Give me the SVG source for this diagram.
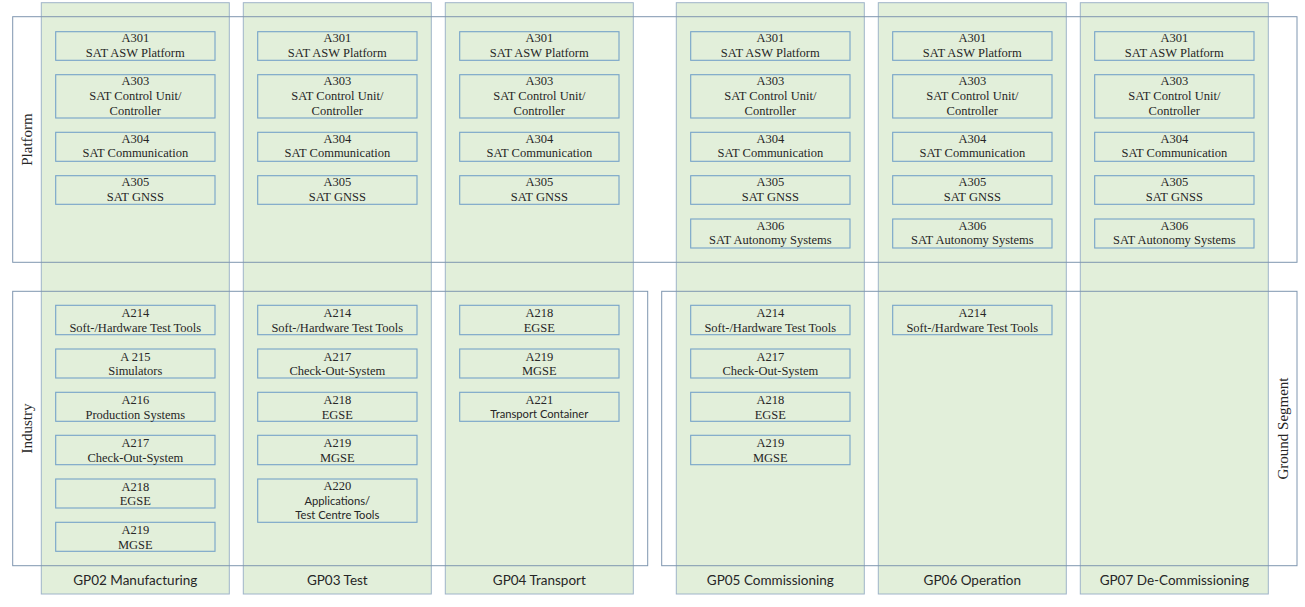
<svg xmlns="http://www.w3.org/2000/svg" width="1305" height="607" viewBox="0 0 1305 607">
<style>
.col{fill:#e2efda;stroke:#9fb4c9;stroke-width:1}
.band{fill:none;stroke:#7f96b0;stroke-width:1}
.box{fill:#e2efda;stroke:#76a3c8;stroke-width:1.1}
.t{font-family:"Liberation Serif","Times New Roman",serif;font-size:12.5px;fill:#262626;text-anchor:middle}
.s{font-family:Lato,"Liberation Sans",sans-serif;font-size:11.2px;fill:#262626;text-anchor:middle}
.f{font-family:Lato,"Liberation Sans",sans-serif;font-size:13.5px;fill:#262626;text-anchor:middle}
.lbl{font-family:"Liberation Serif","Times New Roman",serif;font-size:15px;fill:#262626;text-anchor:middle}
</style>
<rect width="1305" height="607" fill="#fff"/>
<g id="columns">
<g id="gp02"><rect class="col" x="41.3" y="2.7" width="188" height="591.3"/><text class="f" x="135.3" y="585">GP02 Manufacturing</text></g>
<g id="gp03"><rect class="col" x="243.3" y="2.7" width="188" height="591.3"/><text class="f" x="337.3" y="585">GP03 Test</text></g>
<g id="gp04"><rect class="col" x="445.3" y="2.7" width="188" height="591.3"/><text class="f" x="539.3" y="585">GP04 Transport</text></g>
<g id="gp05"><rect class="col" x="676.3" y="2.7" width="188" height="591.3"/><text class="f" x="770.3" y="585">GP05 Commissioning</text></g>
<g id="gp06"><rect class="col" x="878.3" y="2.7" width="188" height="591.3"/><text class="f" x="972.3" y="585">GP06 Operation</text></g>
<g id="gp07"><rect class="col" x="1080.3" y="2.7" width="188" height="591.3"/><text class="f" x="1174.3" y="585">GP07 De-Commissioning</text></g>
</g>
<g id="bands">
<g id="platform"><rect class="band" x="12.7" y="16.7" width="1284.3" height="245.6"/><text class="lbl" transform="translate(32,139.5) rotate(-90)">Platform</text></g>
<g id="industry"><rect class="band" x="12.7" y="291.3" width="635" height="274.4"/><text class="lbl" transform="translate(32,428.5) rotate(-90)">Industry</text></g>
<g id="ground-segment"><rect class="band" x="661.7" y="291.3" width="635.3" height="274.4"/><text class="lbl" transform="translate(1287.5,428.5) rotate(-90)">Ground Segment</text></g>
</g>
<g id="connectors"></g>
<!-- Platform nodes -->
<g id="p02-a301"><rect class="box" x="55.7" y="31.7" width="159.3" height="28.6"/><text class="t" x="135.3" y="42.3">A301</text><text class="t" x="135.3" y="56.7">SAT ASW Platform</text></g>
<g id="p02-a303"><rect class="box" x="55.7" y="74.7" width="159.3" height="43.3"/><text class="t" x="135.3" y="85.3">A303</text><text class="t" x="135.3" y="100">SAT Control Unit/</text><text class="t" x="135.3" y="114.7">Controller</text></g>
<g id="p02-a304"><rect class="box" x="55.7" y="132.3" width="159.3" height="29"/><text class="t" x="135.3" y="143">A304</text><text class="t" x="135.3" y="157.4">SAT Communication</text></g>
<g id="p02-a305"><rect class="box" x="55.7" y="175.7" width="159.3" height="28.6"/><text class="t" x="135.3" y="186.3">A305</text><text class="t" x="135.3" y="200.7">SAT GNSS</text></g>

<g id="p03-a301"><rect class="box" x="257.7" y="31.7" width="159.3" height="28.6"/><text class="t" x="337.3" y="42.3">A301</text><text class="t" x="337.3" y="56.7">SAT ASW Platform</text></g>
<g id="p03-a303"><rect class="box" x="257.7" y="74.7" width="159.3" height="43.3"/><text class="t" x="337.3" y="85.3">A303</text><text class="t" x="337.3" y="100">SAT Control Unit/</text><text class="t" x="337.3" y="114.7">Controller</text></g>
<g id="p03-a304"><rect class="box" x="257.7" y="132.3" width="159.3" height="29"/><text class="t" x="337.3" y="143">A304</text><text class="t" x="337.3" y="157.4">SAT Communication</text></g>
<g id="p03-a305"><rect class="box" x="257.7" y="175.7" width="159.3" height="28.6"/><text class="t" x="337.3" y="186.3">A305</text><text class="t" x="337.3" y="200.7">SAT GNSS</text></g>

<g id="p04-a301"><rect class="box" x="459.7" y="31.7" width="159.3" height="28.6"/><text class="t" x="539.3" y="42.3">A301</text><text class="t" x="539.3" y="56.7">SAT ASW Platform</text></g>
<g id="p04-a303"><rect class="box" x="459.7" y="74.7" width="159.3" height="43.3"/><text class="t" x="539.3" y="85.3">A303</text><text class="t" x="539.3" y="100">SAT Control Unit/</text><text class="t" x="539.3" y="114.7">Controller</text></g>
<g id="p04-a304"><rect class="box" x="459.7" y="132.3" width="159.3" height="29"/><text class="t" x="539.3" y="143">A304</text><text class="t" x="539.3" y="157.4">SAT Communication</text></g>
<g id="p04-a305"><rect class="box" x="459.7" y="175.7" width="159.3" height="28.6"/><text class="t" x="539.3" y="186.3">A305</text><text class="t" x="539.3" y="200.7">SAT GNSS</text></g>

<g id="p05-a301"><rect class="box" x="690.7" y="31.7" width="159.3" height="28.6"/><text class="t" x="770.3" y="42.3">A301</text><text class="t" x="770.3" y="56.7">SAT ASW Platform</text></g>
<g id="p05-a303"><rect class="box" x="690.7" y="74.7" width="159.3" height="43.3"/><text class="t" x="770.3" y="85.3">A303</text><text class="t" x="770.3" y="100">SAT Control Unit/</text><text class="t" x="770.3" y="114.7">Controller</text></g>
<g id="p05-a304"><rect class="box" x="690.7" y="132.3" width="159.3" height="29"/><text class="t" x="770.3" y="143">A304</text><text class="t" x="770.3" y="157.4">SAT Communication</text></g>
<g id="p05-a305"><rect class="box" x="690.7" y="175.7" width="159.3" height="28.6"/><text class="t" x="770.3" y="186.3">A305</text><text class="t" x="770.3" y="200.7">SAT GNSS</text></g>
<g id="p05-a306"><rect class="box" x="690.7" y="219" width="159.3" height="29"/><text class="t" x="770.3" y="229.6">A306</text><text class="t" x="770.3" y="244">SAT Autonomy Systems</text></g>

<g id="p06-a301"><rect class="box" x="892.7" y="31.7" width="159.3" height="28.6"/><text class="t" x="972.3" y="42.3">A301</text><text class="t" x="972.3" y="56.7">SAT ASW Platform</text></g>
<g id="p06-a303"><rect class="box" x="892.7" y="74.7" width="159.3" height="43.3"/><text class="t" x="972.3" y="85.3">A303</text><text class="t" x="972.3" y="100">SAT Control Unit/</text><text class="t" x="972.3" y="114.7">Controller</text></g>
<g id="p06-a304"><rect class="box" x="892.7" y="132.3" width="159.3" height="29"/><text class="t" x="972.3" y="143">A304</text><text class="t" x="972.3" y="157.4">SAT Communication</text></g>
<g id="p06-a305"><rect class="box" x="892.7" y="175.7" width="159.3" height="28.6"/><text class="t" x="972.3" y="186.3">A305</text><text class="t" x="972.3" y="200.7">SAT GNSS</text></g>
<g id="p06-a306"><rect class="box" x="892.7" y="219" width="159.3" height="29"/><text class="t" x="972.3" y="229.6">A306</text><text class="t" x="972.3" y="244">SAT Autonomy Systems</text></g>

<g id="p07-a301"><rect class="box" x="1094.7" y="31.7" width="159.3" height="28.6"/><text class="t" x="1174.3" y="42.3">A301</text><text class="t" x="1174.3" y="56.7">SAT ASW Platform</text></g>
<g id="p07-a303"><rect class="box" x="1094.7" y="74.7" width="159.3" height="43.3"/><text class="t" x="1174.3" y="85.3">A303</text><text class="t" x="1174.3" y="100">SAT Control Unit/</text><text class="t" x="1174.3" y="114.7">Controller</text></g>
<g id="p07-a304"><rect class="box" x="1094.7" y="132.3" width="159.3" height="29"/><text class="t" x="1174.3" y="143">A304</text><text class="t" x="1174.3" y="157.4">SAT Communication</text></g>
<g id="p07-a305"><rect class="box" x="1094.7" y="175.7" width="159.3" height="28.6"/><text class="t" x="1174.3" y="186.3">A305</text><text class="t" x="1174.3" y="200.7">SAT GNSS</text></g>
<g id="p07-a306"><rect class="box" x="1094.7" y="219" width="159.3" height="29"/><text class="t" x="1174.3" y="229.6">A306</text><text class="t" x="1174.3" y="244">SAT Autonomy Systems</text></g>

<!-- Industry / Ground nodes -->
<g id="i02-a214"><rect class="box" x="55.7" y="305.3" width="159.3" height="29.4"/><text class="t" x="135.3" y="317.3">A214</text><text class="t" x="135.3" y="331.7">Soft-/Hardware Test Tools</text></g>
<g id="i02-a215"><rect class="box" x="55.7" y="349" width="159.3" height="29"/><text class="t" x="135.3" y="361">A 215</text><text class="t" x="135.3" y="375.4">Simulators</text></g>
<g id="i02-a216"><rect class="box" x="55.7" y="392.3" width="159.3" height="29"/><text class="t" x="135.3" y="404.3">A216</text><text class="t" x="135.3" y="418.7">Production Systems</text></g>
<g id="i02-a217"><rect class="box" x="55.7" y="435.3" width="159.3" height="29.4"/><text class="t" x="135.3" y="447.3">A217</text><text class="t" x="135.3" y="461.7">Check-Out-System</text></g>
<g id="i02-a218"><rect class="box" x="55.7" y="479" width="159.3" height="29"/><text class="t" x="135.3" y="491">A218</text><text class="t" x="135.3" y="505.4">EGSE</text></g>
<g id="i02-a219"><rect class="box" x="55.7" y="522.3" width="159.3" height="29"/><text class="t" x="135.3" y="534.3">A219</text><text class="t" x="135.3" y="548.7">MGSE</text></g>

<g id="i03-a214"><rect class="box" x="257.7" y="305.3" width="159.3" height="29.4"/><text class="t" x="337.3" y="317.3">A214</text><text class="t" x="337.3" y="331.7">Soft-/Hardware Test Tools</text></g>
<g id="i03-a217"><rect class="box" x="257.7" y="349" width="159.3" height="29"/><text class="t" x="337.3" y="361">A217</text><text class="t" x="337.3" y="375.4">Check-Out-System</text></g>
<g id="i03-a218"><rect class="box" x="257.7" y="392.3" width="159.3" height="29"/><text class="t" x="337.3" y="404.3">A218</text><text class="t" x="337.3" y="418.7">EGSE</text></g>
<g id="i03-a219"><rect class="box" x="257.7" y="435.3" width="159.3" height="29.4"/><text class="t" x="337.3" y="447.3">A219</text><text class="t" x="337.3" y="461.7">MGSE</text></g>
<g id="i03-a220"><rect class="box" x="257.7" y="479" width="159.3" height="43.3"/><text class="t" x="337.3" y="490.3">A220</text><text class="s" x="337.3" y="505.3">Applications/</text><text class="s" x="337.3" y="519.3">Test Centre Tools</text></g>

<g id="i04-a218"><rect class="box" x="459.7" y="305.3" width="159.3" height="29.4"/><text class="t" x="539.3" y="317.3">A218</text><text class="t" x="539.3" y="331.7">EGSE</text></g>
<g id="i04-a219"><rect class="box" x="459.7" y="349" width="159.3" height="29"/><text class="t" x="539.3" y="361">A219</text><text class="t" x="539.3" y="375.4">MGSE</text></g>
<g id="i04-a221"><rect class="box" x="459.7" y="392.3" width="159.3" height="29"/><text class="t" x="539.3" y="404.3">A221</text><text class="s" x="539.3" y="418.3">Transport Container</text></g>

<g id="g05-a214"><rect class="box" x="690.7" y="305.3" width="159.3" height="29.4"/><text class="t" x="770.3" y="317.3">A214</text><text class="t" x="770.3" y="331.7">Soft-/Hardware Test Tools</text></g>
<g id="g05-a217"><rect class="box" x="690.7" y="349" width="159.3" height="29"/><text class="t" x="770.3" y="361">A217</text><text class="t" x="770.3" y="375.4">Check-Out-System</text></g>
<g id="g05-a218"><rect class="box" x="690.7" y="392.3" width="159.3" height="29"/><text class="t" x="770.3" y="404.3">A218</text><text class="t" x="770.3" y="418.7">EGSE</text></g>
<g id="g05-a219"><rect class="box" x="690.7" y="435.3" width="159.3" height="29.4"/><text class="t" x="770.3" y="447.3">A219</text><text class="t" x="770.3" y="461.7">MGSE</text></g>

<g id="g06-a214"><rect class="box" x="892.7" y="305.3" width="159.3" height="29.4"/><text class="t" x="972.3" y="317.3">A214</text><text class="t" x="972.3" y="331.7">Soft-/Hardware Test Tools</text></g>
</svg>
